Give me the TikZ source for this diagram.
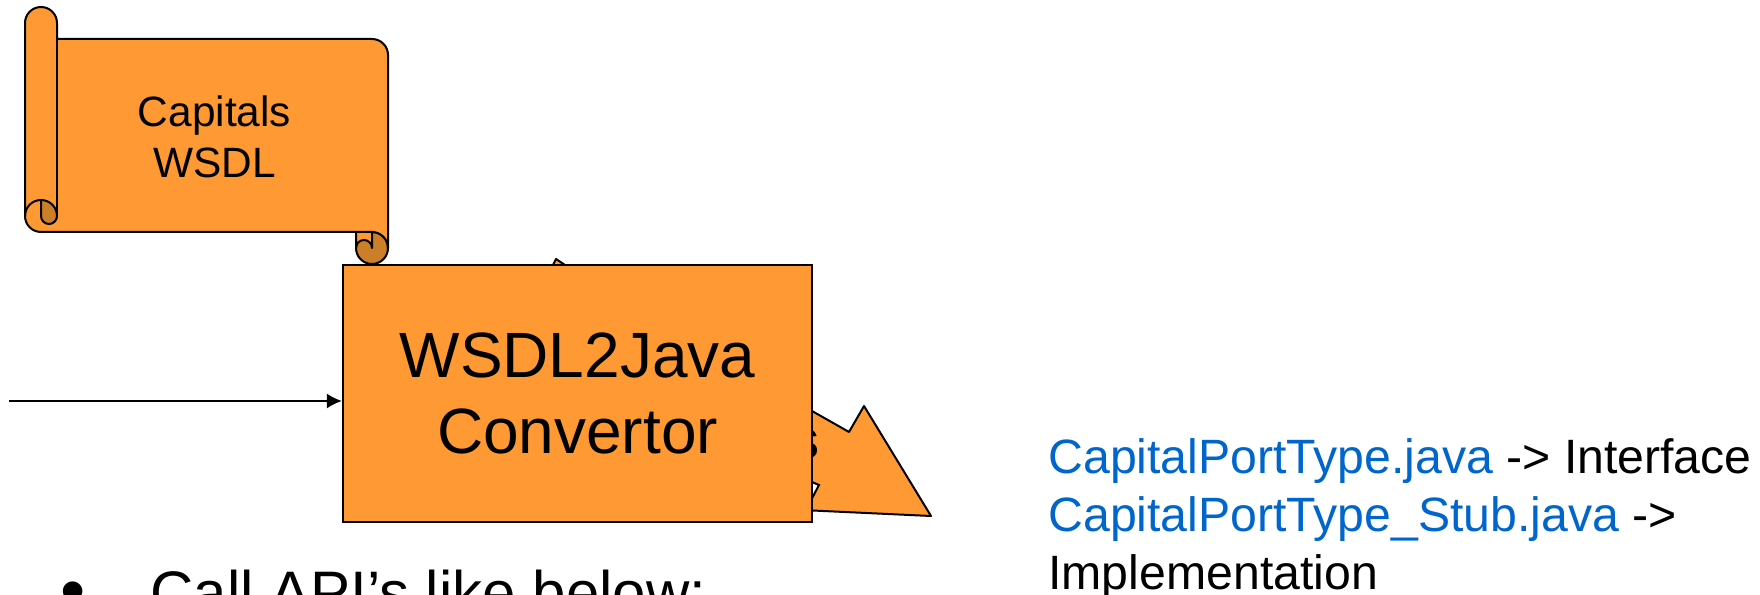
\documentclass[tikz,border=0pt]{standalone}
\usepackage{fontspec}
\setmainfont{Liberation Sans}
\usetikzlibrary{arrows.meta}
\definecolor{orangefill}{HTML}{FF9933}
\definecolor{darkfold}{HTML}{CC7F29}
\definecolor{linkblue}{HTML}{0066CC}
\tikzset{
  shapeline/.style={draw=black,line width=1pt,fill=orangefill,line join=round},
  foldline/.style={draw=black,line width=1pt,fill=darkfold,line join=round},
  plainline/.style={draw=black,line width=1pt},
  scrolllabel/.style={inner sep=0pt,align=center,font=\fontsize{21.2}{25.5}\selectfont},
  boxlabel/.style={inner sep=0pt,align=center,font=\fontsize{32}{37.8}\selectfont},
  sidelabel/.style={inner sep=0pt,anchor=base west,align=left,font=\fontsize{24.1}{29}\selectfont},
  bottomlabel/.style={inner sep=0pt,anchor=base west,font=\fontsize{30}{36}\selectfont},
  bulletlabel/.style={inner sep=0pt,anchor=base west,font=\fontsize{36}{40}\selectfont},
}
\begin{document}
\begin{tikzpicture}[x=0.5pt,y=0.5pt]
\useasboundingbox (0,0) rectangle (1760,594);
\clip (0,0) rectangle (1760,594);
% arrow behind the box (y measured upward: 594 - pixel row)
\path[shapeline] (553,329) -- (556,335) -- (565,329) -- (812,183) -- (849,162) -- (864,188) -- (931,78) -- (780,85) -- (700,83) -- cycle;
\path[draw=black,line width=1pt,fill=white] (795,119) -- (819,109) -- (808,88) -- cycle;
\node[inner sep=0pt,font=\fontsize{27}{30}\selectfont] (hidden) at (806,150) {s};
% scroll: dark rolled end at lower right
\path[foldline] (372,346) circle[radius=8pt];
% scroll: small light tube at lower right
\path[shapeline] (356,362) -- (372,362) -- (372,346) arc[start angle=0,end angle=180,radius=4pt] -- cycle;
% scroll: body
\path[shapeline] (57,555) -- (372,555) arc[start angle=90,end angle=0,radius=8pt] -- (388,346) arc[start angle=0,end angle=90,radius=8pt] -- (41,362) arc[start angle=270,end angle=180,radius=8pt] -- (25,571) arc[start angle=180,end angle=0,radius=8pt] -- cycle;
% scroll: left roll
\draw[plainline] (57,571) -- (57,378);
\path[foldline] (41,394) arc[start angle=90,end angle=0,radius=8pt] arc[start angle=0,end angle=-180,radius=4pt] -- cycle;
\draw[plainline] (25,378) arc[start angle=180,end angle=90,radius=8pt];
\node[scrolllabel] (wsdl) at (214.5,457) {Capitals\\WSDL};
% main box
\node[draw=black,line width=1.1pt,fill=orangefill,minimum width=234.5pt,minimum height=128.5pt,inner sep=0pt,boxlabel] (conv) at (577.5,200.5) {WSDL2Java\\Convertor};
% input arrow
\coordinate (start) at (9,193);
\draw[plainline,-{Latex[length=7.5pt,width=7.5pt]}] (start) -- (conv.west |- start);
% bottom text
\node[bulletlabel] (bullet) at (60,-21) {•};
\node[bottomlabel] (call) at (150,-19) {Call API’s like below:};
% side text
\node[sidelabel] (sideA) at (1048,120) {\textcolor{linkblue}{CapitalPortType.java} -> Interface};
\node[sidelabel] (sideB) at (1048,62) {\textcolor{linkblue}{CapitalPortType\_Stub.java} ->};
\node[sidelabel] (sideC) at (1048,4) {Implementation};
\end{tikzpicture}
\end{document}
